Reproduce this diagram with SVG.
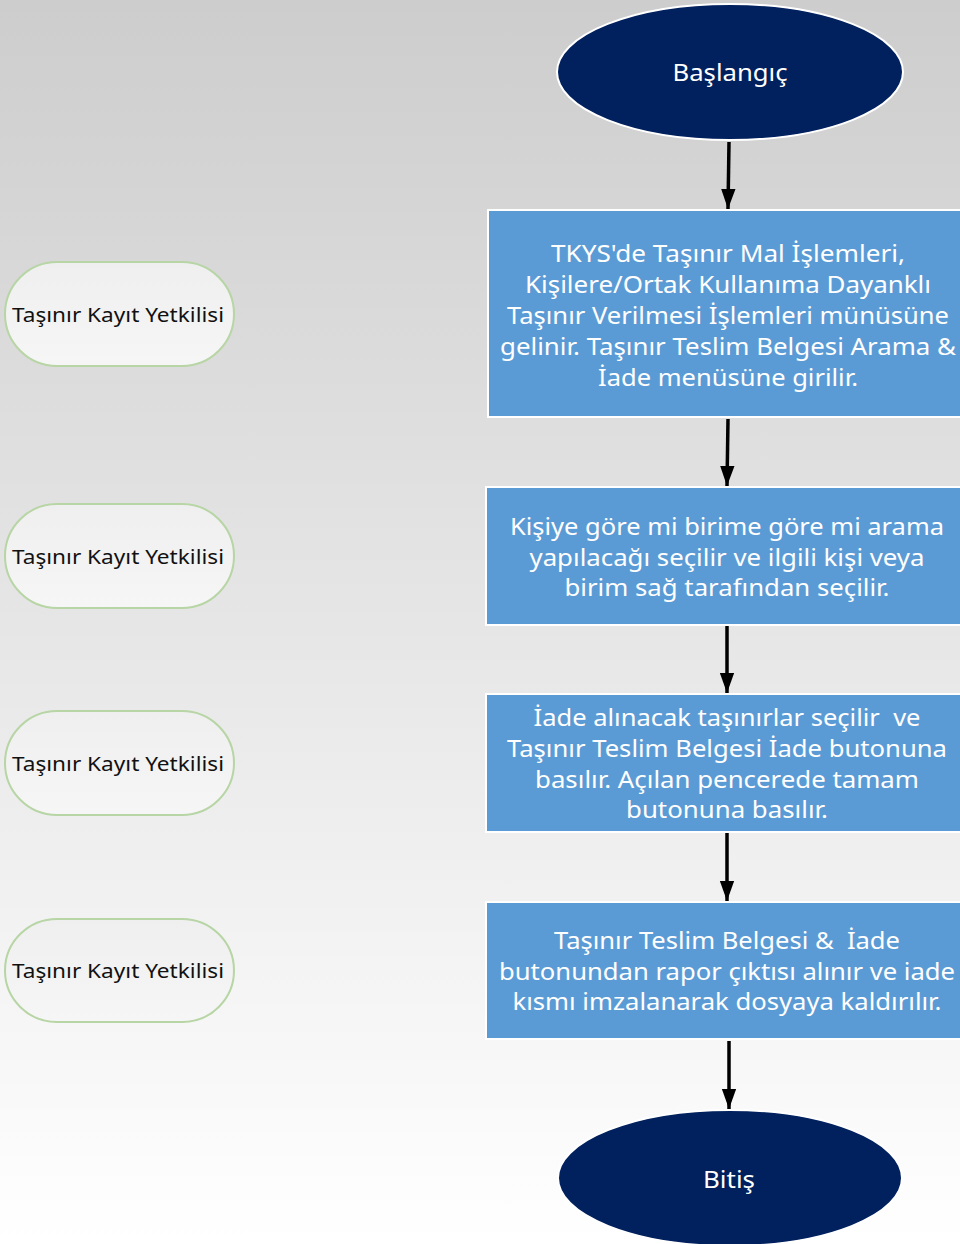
<svg xmlns="http://www.w3.org/2000/svg" width="960" height="1244" viewBox="0 0 960 1244">
<defs>
<linearGradient id="bg" x1="0" y1="0" x2="0" y2="1">
<stop offset="0" stop-color="#cdcdcd"/>
<stop offset="1" stop-color="#ffffff"/>
</linearGradient>
<linearGradient id="pill" x1="0" y1="0" x2="0" y2="1">
<stop offset="0" stop-color="#efefef"/>
<stop offset="1" stop-color="#f6f6f6"/>
</linearGradient>
<marker id="ah" viewBox="0 0 14 10" refX="14" refY="5" markerWidth="5.8" markerHeight="4.3" markerUnits="strokeWidth" orient="auto">
<path d="M0,0 L14,5 L0,10 z" fill="#000"/>
</marker>
<style>
.term{fill:#00205e;stroke:#ffffff;stroke-width:2}
.proc{fill:#5b9bd5;stroke:#ffffff;stroke-width:2}
.pill{fill:url(#pill);stroke:#b7d5a5;stroke-width:2}
.wt{font-family:"Noto Sans","Open Sans",sans-serif;font-size:23px;fill:#ffffff;text-anchor:middle;white-space:pre}
.bt{font-family:"Noto Sans","Open Sans",sans-serif;font-size:20px;fill:#111111;text-anchor:middle}
.conn{stroke:#000;stroke-width:3.5;fill:none;marker-end:url(#ah)}
</style>
</defs>
<rect x="0" y="0" width="960" height="1244" fill="url(#bg)"/>

<g id="connectors">
<line class="conn" x1="729" y1="142" x2="728" y2="209"/>
<line class="conn" x1="728" y1="419" x2="727" y2="486"/>
<line class="conn" x1="727" y1="626" x2="727" y2="693"/>
<line class="conn" x1="727" y1="833" x2="727" y2="901"/>
<line class="conn" x1="729" y1="1041" x2="729" y2="1109"/>
</g>

<g id="start">
<ellipse class="term" cx="730" cy="72" rx="173" ry="68"/>
<text class="wt" x="730" y="81" textLength="115" lengthAdjust="spacingAndGlyphs">Başlangıç</text>
</g>

<g id="step1">
<rect class="proc" x="488" y="210" width="474" height="207"/>
<text class="wt" x="728" y="262" textLength="354" lengthAdjust="spacingAndGlyphs">TKYS'de Taşınır Mal İşlemleri,</text>
<text class="wt" x="728" y="293" textLength="406" lengthAdjust="spacingAndGlyphs">Kişilere/Ortak Kullanıma Dayanklı</text>
<text class="wt" x="728" y="324" textLength="442" lengthAdjust="spacingAndGlyphs">Taşınır Verilmesi İşlemleri münüsüne</text>
<text class="wt" x="728" y="355" textLength="456" lengthAdjust="spacingAndGlyphs">gelinir. Taşınır Teslim Belgesi Arama &amp;</text>
<text class="wt" x="728" y="386" textLength="260" lengthAdjust="spacingAndGlyphs">İade menüsüne girilir.</text>
</g>

<g id="step2">
<rect class="proc" x="486" y="487" width="476" height="138"/>
<text class="wt" x="727" y="535" textLength="434" lengthAdjust="spacingAndGlyphs">Kişiye göre mi birime göre mi arama</text>
<text class="wt" x="727" y="566" textLength="395" lengthAdjust="spacingAndGlyphs">yapılacağı seçilir ve ilgili kişi veya</text>
<text class="wt" x="727" y="596" textLength="325" lengthAdjust="spacingAndGlyphs">birim sağ tarafından seçilir.</text>
</g>

<g id="step3">
<rect class="proc" x="486" y="694" width="476" height="138"/>
<text class="wt" x="727" y="726" textLength="387" lengthAdjust="spacingAndGlyphs">İade alınacak taşınırlar seçilir  ve</text>
<text class="wt" x="727" y="757" textLength="440" lengthAdjust="spacingAndGlyphs">Taşınır Teslim Belgesi İade butonuna</text>
<text class="wt" x="727" y="788" textLength="384" lengthAdjust="spacingAndGlyphs">basılır. Açılan pencerede tamam</text>
<text class="wt" x="727" y="818" textLength="202" lengthAdjust="spacingAndGlyphs">butonuna basılır.</text>
</g>

<g id="step4">
<rect class="proc" x="486" y="902" width="476" height="137"/>
<text class="wt" x="727" y="949" textLength="346" lengthAdjust="spacingAndGlyphs">Taşınır Teslim Belgesi &amp;  İade</text>
<text class="wt" x="727" y="980" textLength="456" lengthAdjust="spacingAndGlyphs">butonundan rapor çıktısı alınır ve iade</text>
<text class="wt" x="727" y="1010" textLength="429" lengthAdjust="spacingAndGlyphs">kısmı imzalanarak dosyaya kaldırılır.</text>
</g>

<g id="end">
<ellipse class="term" cx="730" cy="1178" rx="172" ry="68"/>
<text class="wt" x="729" y="1188" textLength="52" lengthAdjust="spacingAndGlyphs">Bitiş</text>
</g>

<g id="role1">
<rect class="pill" x="5" y="262" width="229" height="104" rx="52" ry="52"/>
<text class="bt" x="118" y="322" textLength="212" lengthAdjust="spacingAndGlyphs">Taşınır Kayıt Yetkilisi</text>
</g>
<g id="role2">
<rect class="pill" x="5" y="504" width="229" height="104" rx="52" ry="52"/>
<text class="bt" x="118" y="564" textLength="212" lengthAdjust="spacingAndGlyphs">Taşınır Kayıt Yetkilisi</text>
</g>
<g id="role3">
<rect class="pill" x="5" y="711" width="229" height="104" rx="52" ry="52"/>
<text class="bt" x="118" y="771" textLength="212" lengthAdjust="spacingAndGlyphs">Taşınır Kayıt Yetkilisi</text>
</g>
<g id="role4">
<rect class="pill" x="5" y="919" width="229" height="103" rx="52" ry="52"/>
<text class="bt" x="118" y="978" textLength="212" lengthAdjust="spacingAndGlyphs">Taşınır Kayıt Yetkilisi</text>
</g>
</svg>
